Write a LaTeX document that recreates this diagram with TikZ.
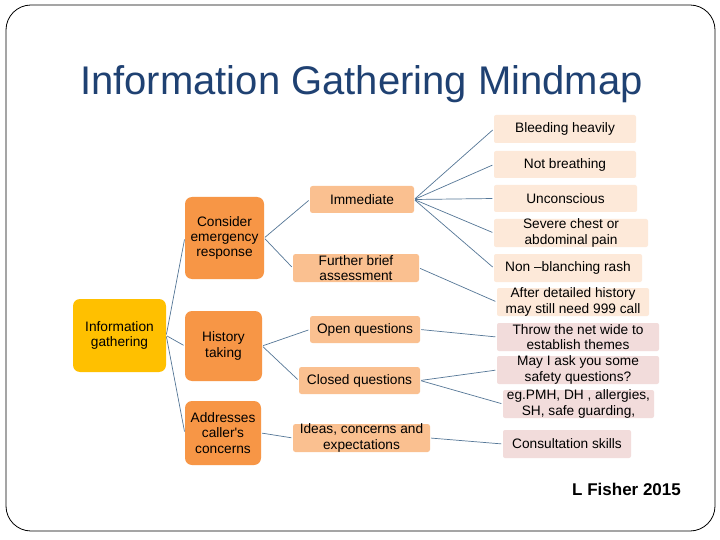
\documentclass[tikz,border=0pt]{standalone}
\usepackage{fontspec}
\setmainfont{Liberation Sans}
\begin{document}
\begin{tikzpicture}[x=1pt,y=-1pt,
  box/.style={draw=none,inner sep=0pt,align=center,text=black,font=\fontsize{13.7}{15.2}\selectfont},
  lvlzero/.style={box,fill=gold,rounded corners=7pt},
  lvlone/.style={box,fill=orangeA,rounded corners=7pt},
  lvltwo/.style={box,fill=orangeB,rounded corners=2.5pt},
  lvlthree/.style={box,fill=orangeC,rounded corners=2pt},
  lvlpink/.style={box,fill=pinkC,rounded corners=2pt},
  conn/.style={draw=linecol,line width=0.7pt,shorten <=1pt,shorten >=1.5pt}
]
\definecolor{gold}{HTML}{FFC000}
\definecolor{orangeA}{HTML}{F79646}
\definecolor{orangeB}{HTML}{FAC090}
\definecolor{orangeC}{HTML}{FDE9D9}
\definecolor{pinkC}{HTML}{F2DCDB}
\definecolor{linecol}{HTML}{557797}
\definecolor{titleblue}{HTML}{1F4172}
\useasboundingbox (0,0) rectangle (720,540);
\fill[white] (0,0) rectangle (720,540);
\draw[black,line width=0.8pt,rounded corners=25pt] (6,5) rectangle (715,531);

\node[anchor=base west,inner sep=0pt,text=titleblue,font=\fontsize{40}{44}\selectfont] (title) at (80,95) {Information Gathering Mindmap};

% level 0 and 1
\node[lvlzero,minimum width=93pt,minimum height=73pt] (info) at (119.5,335.5) {Information\\gathering};
\node[lvlone,minimum width=79pt,minimum height=82pt] (cer) at (224.5,238) {Consider\\emergency\\response};
\node[lvlone,minimum width=77pt,minimum height=70pt] (hist) at (223.5,346) {History\\taking};
\node[lvlone,minimum width=76pt,minimum height=64pt] (addr) at (223,433) {Addresses\\caller\textquotesingle s\\concerns};

% level 2
\node[lvltwo,minimum width=104pt,minimum height=27pt] (imm) at (362,199.5) {Immediate};
\node[lvltwo,minimum width=126pt,minimum height=28pt] (fba) at (356,268) {Further brief\\assessment};
\node[lvltwo,minimum width=110pt,minimum height=27pt] (openq) at (365,329.5) {Open questions};
\node[lvltwo,minimum width=121pt,minimum height=27pt] (closedq) at (359.5,380.5) {Closed questions};
\node[lvltwo,minimum width=137pt,minimum height=28pt] (ice) at (361.5,438) {Ideas, concerns and\\expectations};

% level 3
\node[lvlthree,minimum width=142pt,minimum height=28pt] (bleed) at (565,129) {Bleeding heavily};
\node[lvlthree,minimum width=142pt,minimum height=27pt] (notb) at (565,164.5) {Not breathing};
\node[lvlthree,minimum width=143pt,minimum height=27pt] (uncon) at (565.5,198.5) {Unconscious};
\node[lvlthree,minimum width=154pt,minimum height=28pt] (severe) at (571,233) {Severe chest or\\abdominal pain};
\node[lvlthree,minimum width=148pt,minimum height=28pt] (nonb) at (568,268) {Non \textendash blanching rash};
\node[lvlthree,minimum width=152pt,minimum height=28pt] (after) at (573,302) {After detailed history\\may still need 999 call};
\node[lvlpink,minimum width=162pt,minimum height=28pt] (throw) at (578,337) {Throw the net wide to\\establish themes};
\node[lvlpink,minimum width=162pt,minimum height=28pt] (mayi) at (578,370) {May I ask you some\\safety questions?};
\node[lvlpink,minimum width=151pt,minimum height=28pt] (eg) at (578.5,404) {eg.PMH, DH , allergies,\\SH, safe guarding,};
\node[lvlpink,minimum width=128pt,minimum height=28pt] (consult) at (567,444) {Consultation skills};

\node[anchor=base west,inner sep=0pt,font=\fontsize{17}{20}\selectfont\bfseries] (author) at (572,495) {L Fisher 2015};

% connectors
\draw[conn] (info.east) -- (cer.west);
\draw[conn] (info.east) -- (hist.west);
\draw[conn] (info.east) -- (addr.west);
\draw[conn] (cer.east) -- (imm.west);
\draw[conn] (cer.east) -- (fba.west);
\draw[conn] (hist.east) -- (openq.west);
\draw[conn] (hist.east) -- (closedq.west);
\draw[conn] (addr.east) -- (ice.west);
\draw[conn] (imm.east) -- (bleed.west);
\draw[conn] (imm.east) -- (notb.west);
\draw[conn] (imm.east) -- (uncon.west);
\draw[conn] (imm.east) -- (severe.west);
\draw[conn] (imm.east) -- (nonb.west);
\draw[conn] (fba.east) -- (after.west);
\draw[conn] (openq.east) -- (throw.west);
\draw[conn] (closedq.east) -- (mayi.west);
\draw[conn] (closedq.east) -- (eg.west);
\draw[conn] (ice.east) -- (consult.west);
\end{tikzpicture}
\end{document}
